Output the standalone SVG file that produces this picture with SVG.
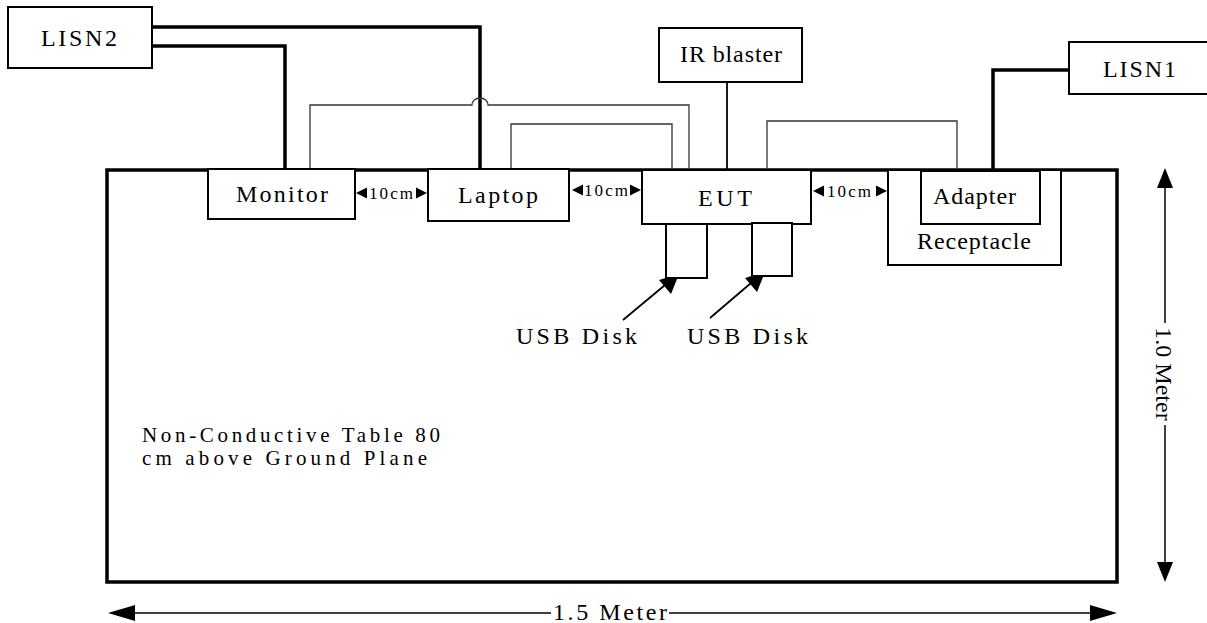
<svg xmlns="http://www.w3.org/2000/svg" width="1207" height="623" viewBox="0 0 1207 623">
<style>
text{font-family:"Liberation Serif","Times New Roman",serif;fill:#000}
.lbl{font-size:24px}
.big{font-size:21px}
.sm{font-size:17px}
.box{fill:#fff;stroke:#000;stroke-width:2}
.thick{fill:none;stroke:#000;stroke-width:3.5}
.thin{fill:none;stroke:#333;stroke-width:1.3}
.med{fill:none;stroke:#000;stroke-width:1.8}
.tri{fill:#000;stroke:none}
</style>
<g id="table"><rect x="107" y="170" width="1010" height="412" fill="#fff" stroke="#000" stroke-width="3.5"/>
<text class="big" x="142" y="442" textLength="298" lengthAdjust="spacing">Non-Conductive Table 80</text>
<text class="big" x="142" y="465" textLength="285" lengthAdjust="spacing">cm above Ground Plane</text>
</g>
<g id="connectors">
<path class="thick" d="M152,27H480V170"/>
<path class="thick" d="M152,46H285V170"/>
<path class="thick" d="M1069,70H993V171"/>
<path class="thin" d="M310,173V105H472A8,7 0 0 1 488,105H689V172"/>
<path class="thin" d="M511,170V124H672V170"/>
<path class="thin" d="M767,170V121H957V171"/>
<path class="med" d="M727,82V171"/>
<line class="med" x1="623" y1="320" x2="665" y2="285"/>
<polygon class="tri" points="679,274 671,294 659,280"/>
<line class="med" x1="710" y1="318" x2="751" y2="283"/>
<polygon class="tri" points="765,272 757,292 745,278"/>
</g>
<g id="lisn2"><rect class="box" x="8" y="7" width="144" height="61"/><text class="lbl" x="41" y="46" textLength="76" lengthAdjust="spacing">LISN2</text></g>
<g id="monitor"><rect class="box" x="208" y="169" width="147" height="50"/><text class="lbl" x="236" y="202" textLength="92" lengthAdjust="spacing">Monitor</text></g>
<g id="laptop"><rect class="box" x="428" y="169" width="141" height="52"/><text class="lbl" x="458" y="203" textLength="80" lengthAdjust="spacing">Laptop</text></g>
<g id="eut"><rect class="box" x="642" y="170" width="169" height="54"/><text class="lbl" x="698" y="206" textLength="54" lengthAdjust="spacing">EUT</text></g>
<g id="usb1"><rect class="box" x="666" y="224" width="41" height="54"/></g>
<g id="usb2"><rect class="box" x="752" y="223" width="40" height="53"/></g>
<g id="usb-labels"><text class="lbl" x="516" y="344" textLength="121" lengthAdjust="spacing">USB Disk</text><text class="lbl" x="687" y="344" textLength="121" lengthAdjust="spacing">USB Disk</text></g>
<g id="irblaster"><rect class="box" x="659" y="28" width="143" height="54"/><text class="lbl" x="680" y="62" textLength="102" lengthAdjust="spacing">IR blaster</text></g>
<g id="lisn1"><rect class="box" x="1069" y="42" width="145" height="52"/><text class="lbl" x="1103" y="77" textLength="73" lengthAdjust="spacing">LISN1</text></g>
<g id="receptacle"><rect class="box" x="888" y="170" width="173" height="95"/><text class="lbl" x="917" y="249" textLength="114" lengthAdjust="spacing">Receptacle</text></g>
<g id="adapter"><rect class="box" x="921" y="171" width="119" height="53"/><text class="lbl" x="933" y="204" textLength="83" lengthAdjust="spacing">Adapter</text></g>
<g id="spacing">
<polygon class="tri" points="356,193 367,187.5 367,198.5"/><text class="sm" x="369" y="199" textLength="44" lengthAdjust="spacing">10cm</text><polygon class="tri" points="427,193 416,187.5 416,198.5"/>
<polygon class="tri" points="572,190 583,184.5 583,195.5"/><text class="sm" x="584" y="196" textLength="44" lengthAdjust="spacing">10cm</text><polygon class="tri" points="641,190 630,184.5 630,195.5"/>
<polygon class="tri" points="813,191 824,185.5 824,196.5"/><text class="sm" x="827" y="197" textLength="44" lengthAdjust="spacing">10cm</text><polygon class="tri" points="887,191 876,185.5 876,196.5"/>
</g>
<g id="dimensions">
<line x1="130" y1="613" x2="551" y2="613" stroke="#000" stroke-width="1.5"/>
<line x1="669" y1="613" x2="1095" y2="613" stroke="#000" stroke-width="1.5"/>
<polygon class="tri" points="108,613 135,605 135,621"/>
<polygon class="tri" points="1117,613 1090,605 1090,621"/>
<text class="lbl" x="553" y="620" textLength="114" lengthAdjust="spacing">1.5 Meter</text>
<line x1="1165" y1="185" x2="1165" y2="323" stroke="#000" stroke-width="1.5"/>
<line x1="1165" y1="425" x2="1165" y2="565" stroke="#000" stroke-width="1.5"/>
<polygon class="tri" points="1165,168 1157,188 1173,188"/>
<polygon class="tri" points="1165,582 1157,562 1173,562"/>
<text class="lbl" transform="translate(1156,374) rotate(90)" text-anchor="middle">1.0 Meter</text>
</g>
</svg>
